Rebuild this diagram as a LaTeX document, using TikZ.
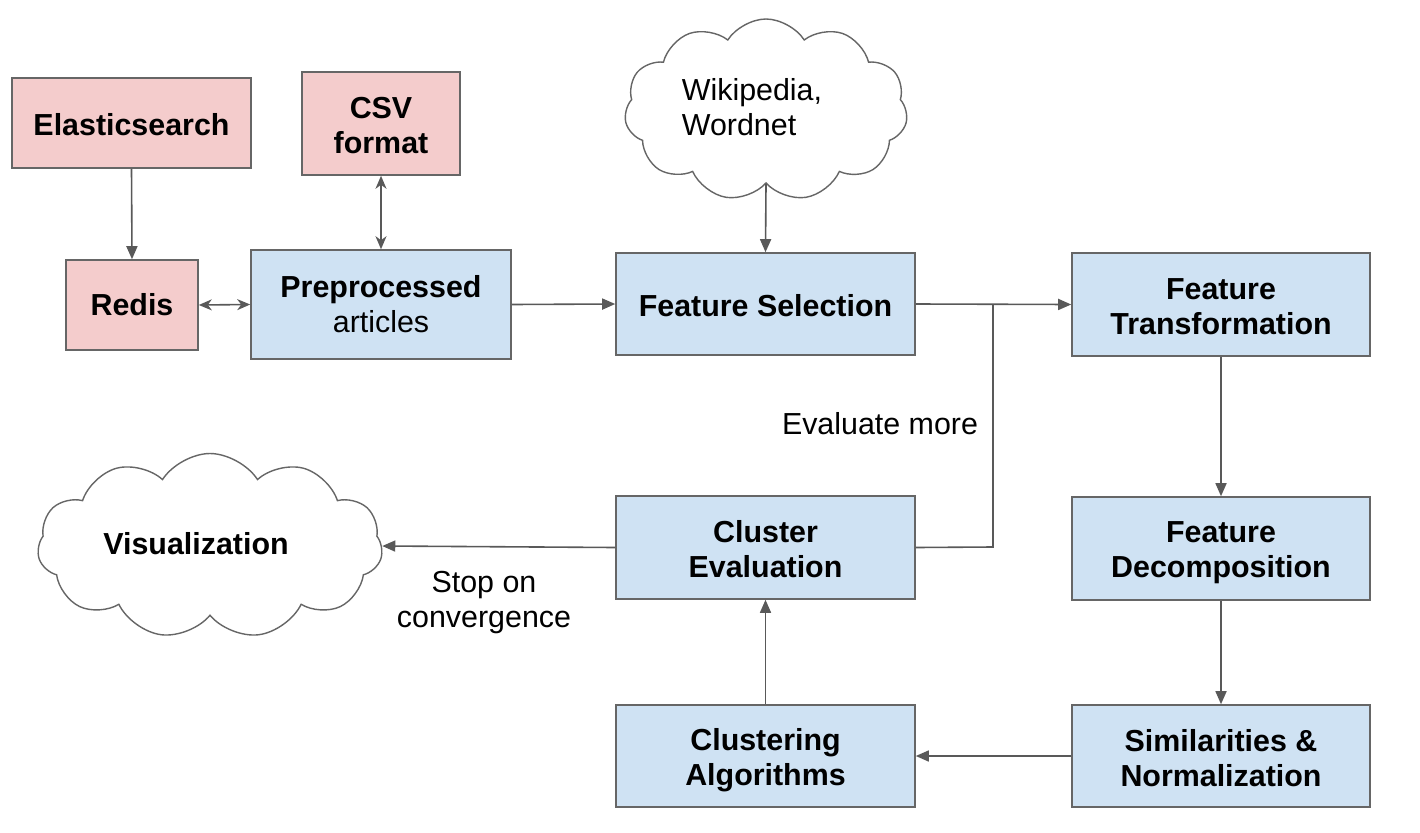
\documentclass[tikz,border=0pt]{standalone}
\usepackage{fontspec}
\setmainfont{Liberation Sans}
\usetikzlibrary{arrows.meta,shapes.symbols}
\definecolor{pinkfill}{HTML}{F4CCCC}
\definecolor{bluefill}{HTML}{CFE2F3}
\definecolor{bordergray}{HTML}{666666}
\definecolor{arrowgray}{HTML}{595959}
\newcommand\tallstrut{\rule{0pt}{30pt}}
\newcommand\midstrut{\rule{0pt}{26pt}}
\begin{document}
\begin{tikzpicture}[x=1pt,y=-1pt,
  every node/.style={font=\fontsize{30.4}{35}\selectfont, align=center, inner sep=0pt},
  box/.style={draw=bordergray, line width=1.6pt, rectangle},
  pinkbox/.style={box, fill=pinkfill},
  bluebox/.style={box, fill=bluefill},
  cloudbox/.style={draw=bordergray, line width=1.4pt, cloud, cloud puffs=11, cloud puff arc=115, cloud ignores aspect, fill=white},
  conn/.style={draw=arrowgray, line width=1.6pt},
  arr/.style={conn, -{Triangle[length=13pt,width=11pt]}},
  darr/.style={conn, {Stealth[length=13pt,width=11pt,inset=4pt]}-{Stealth[length=13pt,width=11pt,inset=4pt]}},
  lbl/.style={font=\fontsize{30.4}{35}\selectfont}
]
\useasboundingbox (0,0) rectangle (1420,832);
\fill[white] (0,0) rectangle (1420,832);

\node[pinkbox, minimum width=239pt, minimum height=90pt] (es) at (131.5,123) {\midstrut\textbf{Elasticsearch}};
\node[pinkbox, minimum width=158pt, minimum height=103pt] (csv) at (381,123.5) {\midstrut\textbf{CSV}\\\textbf{format}};
\node[pinkbox, minimum width=132pt, minimum height=90pt] (redis) at (132,305) {\textbf{Redis}};
\node[bluebox, minimum width=260pt, minimum height=109pt] (pre) at (381,304.5) {\textbf{Preprocessed}\\articles};
\node[bluebox, minimum width=299pt, minimum height=102pt] (fs) at (765.5,304) {\midstrut\textbf{Feature Selection}};
\node[bluebox, minimum width=298pt, minimum height=103pt] (ft) at (1221,304.5) {\midstrut\textbf{Feature}\\\textbf{Transformation}};
\node[bluebox, minimum width=298pt, minimum height=103pt] (fd) at (1221,548.5) {\tallstrut\textbf{Feature}\\\textbf{Decomposition}};
\node[bluebox, minimum width=298pt, minimum height=102pt] (sn) at (1221,756) {\midstrut\textbf{Similarities \&}\\\textbf{Normalization}};
\node[bluebox, minimum width=299pt, minimum height=102pt] (ca) at (765.5,756) {\tallstrut\textbf{Clustering}\\\textbf{Algorithms}};
\node[bluebox, minimum width=299pt, minimum height=103pt] (ce) at (765.5,547.5) {\midstrut\textbf{Cluster}\\\textbf{Evaluation}};

\node[cloudbox, minimum width=283pt, minimum height=182pt] (wiki) at (766,110) {};
\node[lbl, align=left] (wikit) at (752,107) {Wikipedia,\\Wordnet};
\node[cloudbox, minimum width=345pt, minimum height=185pt] (vis) at (210,546) {};
\node[lbl] (vist) at (196,544) {\textbf{Visualization}};

\coordinate (j) at (993,305);
\coordinate (jb) at (993,547);

\draw[arr] (es.south) -- (redis.north);
\draw[darr] (redis.east) -- (pre.west);
\draw[darr] (csv.south) -- (pre.north);
\draw[arr] (pre.east) -- (fs.west);
\draw[arr] (wiki.south) -- (fs.north);
\draw[arr] (fs.east) -- (ft.west);
\draw[conn] (ce.east) -- (jb) -- (j);
\draw[arr] (ft.south) -- (fd.north);
\draw[arr] (fd.south) -- (sn.north);
\draw[arr] (sn.west) -- (ca.east);
\draw[arr] (ca.north) -- (ce.south);
\draw[arr] (ce.west) -- (vis.east);

\node[lbl] (evm) at (880,424) {Evaluate more};
\node[lbl] (stop) at (484,603) {Stop on\\convergence};
\end{tikzpicture}
\end{document}
